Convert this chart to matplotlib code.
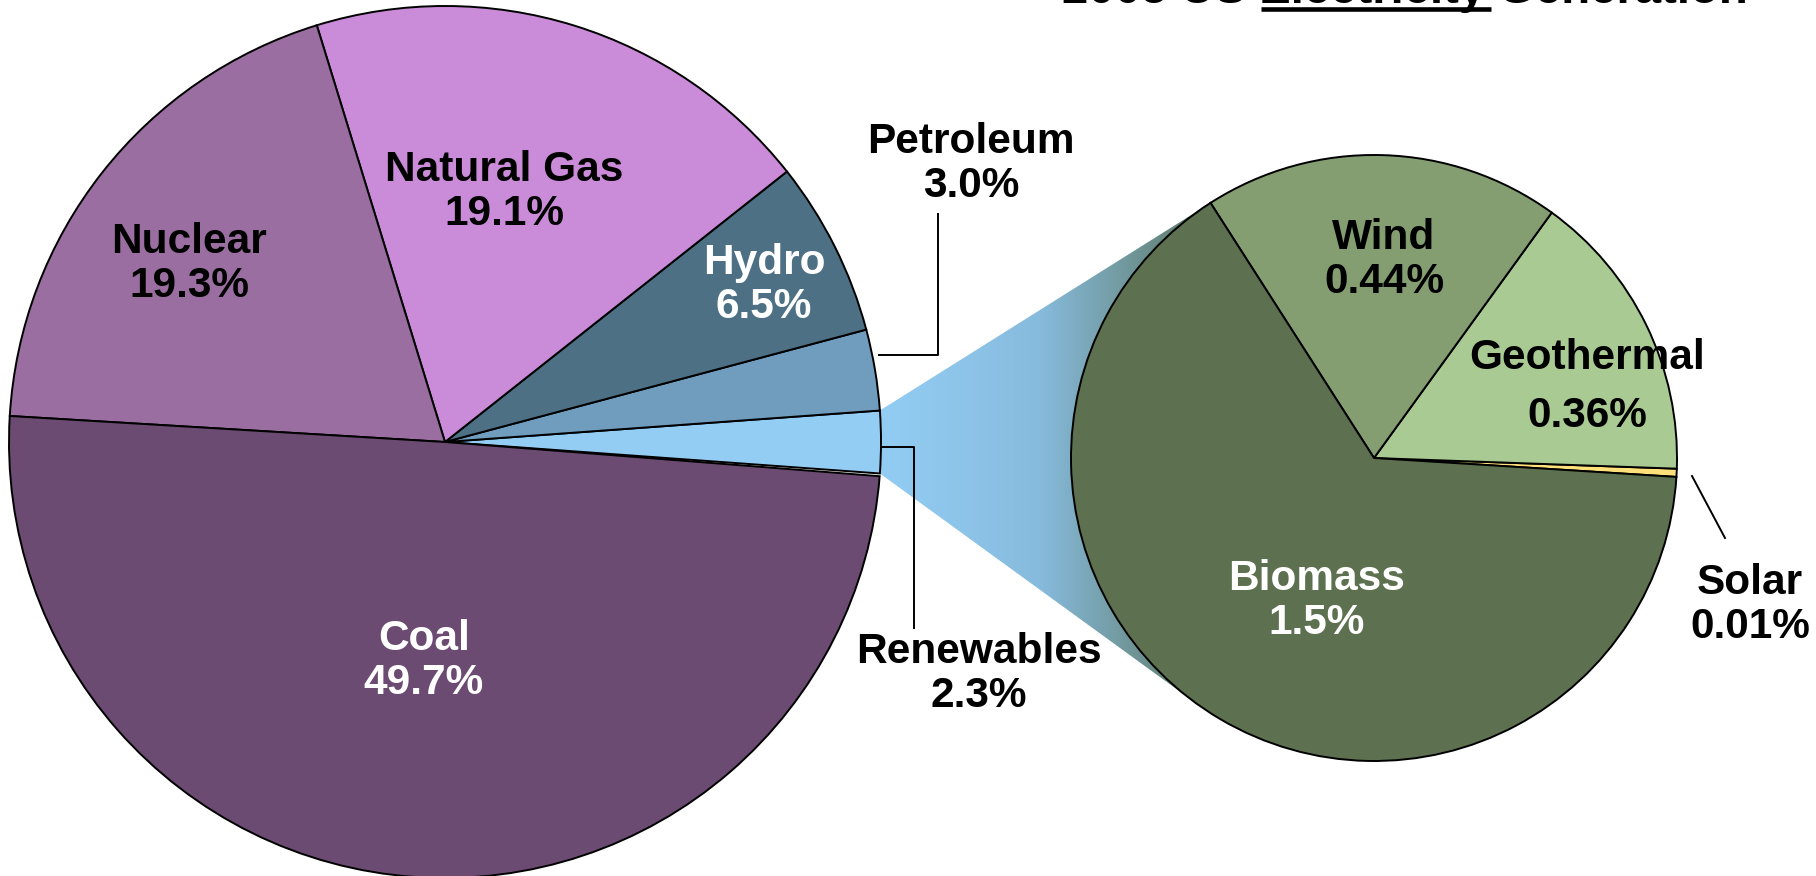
import numpy as np
import matplotlib.pyplot as plt
from matplotlib.patches import Polygon
from matplotlib.colors import LinearSegmentedColormap

plt.rcParams['font.family'] = ['Liberation Sans', 'DejaVu Sans']

# main pie, counterclockwise starting from Renewables (centred on the right)
main_labels = ['Renewables', 'Petroleum', 'Hydro', 'Natural Gas', 'Nuclear', 'Coal']
main_values = [2.3, 3.0, 6.5, 19.1, 19.3, 49.7]
main_colors = ['#93cdf4', '#709dbd', '#4e7085', '#ca8bd8', '#9a6ea0', '#6b4b72']

# breakdown of renewables
sub_labels = ['Solar', 'Geothermal', 'Wind', 'Biomass']
sub_values = [0.01, 0.36, 0.44, 1.5]
sub_pct = ['0.01%', '0.36%', '0.44%', '1.5%']
sub_colors = ['#ffe07a', '#aaca93', '#849e72', '#5d7150']

W, H = 1816, 876
fig = plt.figure(figsize=(W / 100, H / 100), dpi=100)
ax = fig.add_axes([0, 0, 1, 1])

c1 = np.array([445.0, H - 442.0])
r1 = 436
c2 = np.array([1374.0, H - 458.0])
r2 = 303

# gradient wedge linking renewables slice to the second pie
half = np.deg2rad(main_values[0] * 3.6 / 2)
p1 = c1 + r1 * np.array([np.cos(half), np.sin(half)])
p2 = c1 + r1 * np.array([np.cos(half), -np.sin(half)])

def tangent(p, c, r, sign):
    d = np.hypot(*(p - c))
    base = np.arctan2(p[1] - c[1], p[0] - c[0])
    a = base + sign * np.arccos(r / d)
    return c + r * np.array([np.cos(a), np.sin(a)])

t1 = tangent(p1, c2, r2, -1)
t2 = tangent(p2, c2, r2, 1)
poly = Polygon([p1, t1, c2, t2, p2], closed=True, facecolor='none', edgecolor='none')
ax.add_patch(poly)
cmap = LinearSegmentedColormap.from_list('g', ['#93cdf4', '#87bbdd', '#5e7a66'])
grad = np.linspace(0, 1, 256).reshape(1, -1)
im = ax.imshow(grad, cmap=cmap, extent=[880, 1200, H - 720, H - 180], aspect='auto', zorder=0)
im.set_clip_path(poly)

wp = dict(edgecolor='black', linewidth=1.4)
ax.pie(np.array(main_values) / 100, normalize=False, colors=main_colors,
       startangle=-main_values[0] * 3.6 / 2, center=tuple(c1), radius=r1,
       wedgeprops=wp)
sub_frac = np.array(sub_values) / sum(sub_values)
ax.pie(sub_values, colors=sub_colors,
       startangle=-2.8 - sub_frac[0] * 180, center=tuple(c2), radius=r2,
       wedgeprops=wp)

ax.set_xlim(0, W)
ax.set_ylim(0, H)
ax.set_aspect('equal')
ax.axis('off')

fs = 30.5
kw = dict(ha='center', va='center', fontsize=fs, fontweight='bold', linespacing=1.15)

# main labels (pixel coords of the reference)
main_pos = {
    'Coal': (424, 661, 'white'),
    'Nuclear': (189, 264, 'black'),
    'Natural Gas': (504, 192, 'black'),
    'Hydro': (764, 285, 'white'),
    'Petroleum': (971, 164, 'black'),
    'Renewables': (979, 674, 'black'),
}
for lab, val in zip(main_labels, main_values):
    x, y, col = main_pos[lab]
    ax.text(x, H - y, f'{lab}\n{val:.1f}%', color=col, **kw)

sub_pos = {
    'Biomass': (1317, 601, 'white'),
    'Wind': (1384, 260, 'black'),
    'Solar': (1750, 605, 'black'),
}
for lab, pct in zip(sub_labels, sub_pct):
    if lab == 'Geothermal':
        ax.text(1587, H - 358, lab, color='black', **kw)
        ax.text(1587, H - 416, pct, color='black', **kw)
        continue
    x, y, col = sub_pos[lab]
    ax.text(x, H - y, f'{lab}\n{pct}', color=col, **kw)

# leader lines
ax.plot([879, 938, 938], [H - 355, H - 355, H - 214], color='black', lw=1.4)
ax.plot([882, 914, 914], [H - 447, H - 447, H - 628], color='black', lw=1.4)
ax.plot([1692, 1725], [H - 476, H - 538], color='black', lw=1.4)

# title, mostly cut off at the top edge
ax.text(1405, H - 3, '2005 US Electricity Generation', ha='center', va='baseline',
        fontsize=34, fontweight='bold')
ax.plot([1261, 1491], [H - 8.5, H - 8.5], color='black', lw=3.3, solid_capstyle='butt')

fig.savefig('out.png', dpi=100)
